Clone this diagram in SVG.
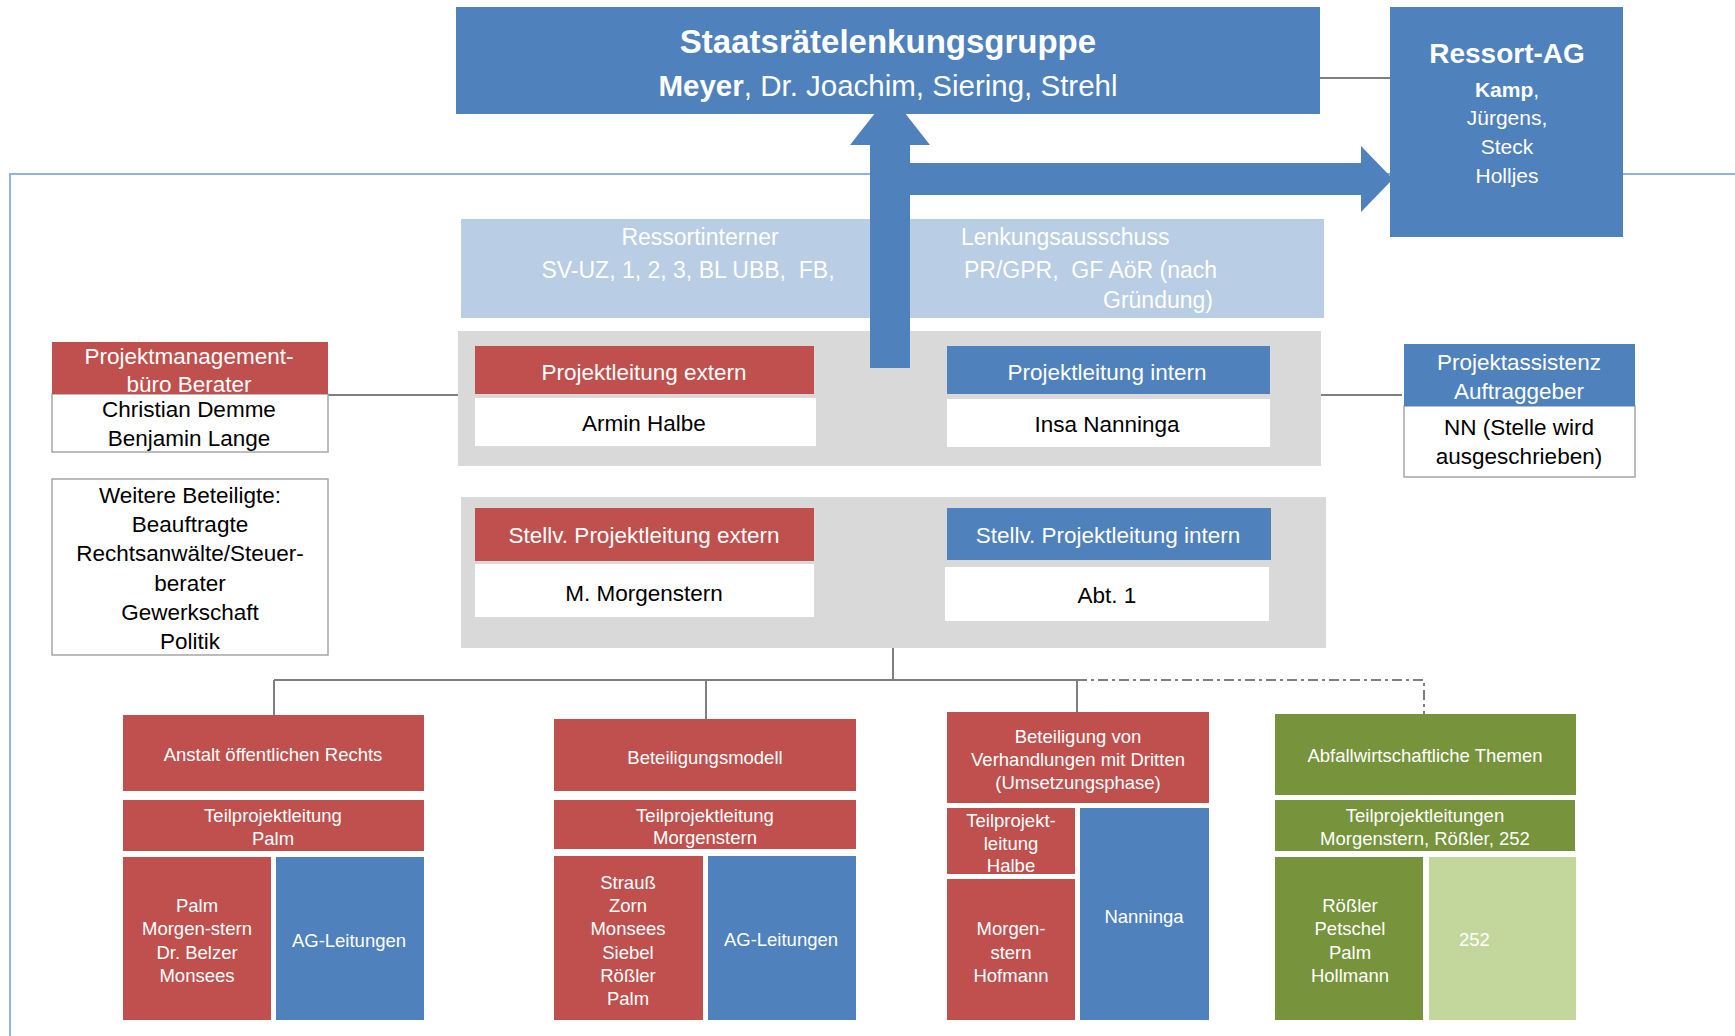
<svg xmlns="http://www.w3.org/2000/svg" width="1735" height="1036" viewBox="0 0 1735 1036">
<style>
text{font-family:"Liberation Sans",Arial,sans-serif;text-anchor:middle}
.pre{white-space:pre}
.w{fill:#fff}
.k{fill:#000}
.red{fill:#c0504d}
.blue{fill:#4f81bd}
.green{fill:#77933c}
.lgreen{fill:#c3d69b}
.lblue{fill:#b9cde5}
.gray{fill:#d9d9d9}
.wb{fill:#fff}
.wbo{fill:#fff;stroke:#a6a6a6;stroke-width:1.5}
.hd{font-size:22.5px}
.sm{font-size:18.5px}
.con{fill:none;stroke:#7f7f7f;stroke-width:2}
</style>
<rect width="1735" height="1036" fill="#fff"/>
<!-- frame -->
<path d="M1735,174 H10 V1036" fill="none" stroke="#8eb4e3" stroke-width="2"/>

<g id="connectors">
<line class="con" x1="1320" y1="78" x2="1390" y2="78"/>
<line class="con" x1="328" y1="395" x2="458" y2="395"/>
<line class="con" x1="1321" y1="395" x2="1402" y2="395"/>
<path class="con" d="M893,648 V680 M274,680 H1077 M274,680 V715 M706,680 V719 M1077,680 V712"/>
<path class="con" d="M1077,680 H1424 V714" stroke-dasharray="10 4 3 4"/>
</g>

<g id="lenkungsausschuss">
<rect class="lblue" x="461" y="219" width="863" height="99"/>
<text class="w" x="700" y="245" font-size="23">Ressortinterner</text>
<text class="w pre" x="688" y="278" font-size="23" xml:space="preserve">SV-UZ, 1, 2, 3, BL UBB,  FB,</text>
<text class="w" x="961" y="245" font-size="23" style="text-anchor:start">Lenkungsausschuss</text>
<text class="w pre" x="964" y="278" font-size="23" style="text-anchor:start" xml:space="preserve">PR/GPR,  GF AöR (nach</text>
<text class="w" x="1213" y="308" font-size="23" style="text-anchor:end">Gründung)</text>
</g>

<g id="projektleitung">
<rect class="gray" x="458" y="331" width="863" height="135"/>
<rect class="red" x="475" y="346" width="339" height="48"/>
<rect class="wb" x="475" y="398" width="341" height="48"/>
<text class="w hd" x="644" y="380">Projektleitung extern</text>
<text class="k hd" x="644" y="431">Armin Halbe</text>
<rect class="blue" x="947" y="346" width="323" height="48"/>
<rect class="wb" x="947" y="399" width="323" height="48"/>
<text class="w hd" x="1107" y="380">Projektleitung intern</text>
<text class="k hd" x="1107" y="432">Insa Nanninga</text>
</g>

<g id="arrows">
<rect class="blue" x="870" y="140" width="40" height="228"/>
<rect class="blue" x="905" y="163" width="456" height="32"/>
<polygon class="blue" points="850,145 930,145 890,94"/>
<polygon class="blue" points="1361,146 1361,212 1393,179"/>
</g>

<g id="staatsraete">
<rect class="blue" x="456" y="7" width="864" height="107"/>
<text class="w" x="888" y="53" font-size="33" font-weight="bold">Staatsrätelenkungsgruppe</text>
<text class="w" x="888" y="96" font-size="29.5"><tspan font-weight="bold">Meyer</tspan>, Dr. Joachim, Siering, Strehl</text>
</g>

<g id="ressort-ag">
<rect class="blue" x="1390" y="7" width="233" height="230"/>
<text class="w" x="1507" y="63" font-size="28" font-weight="bold">Ressort-AG</text>
<text class="w" x="1507" y="97" font-size="21" font-weight="bold">Kamp<tspan font-weight="normal">,</tspan></text>
<text class="w" x="1507" y="125" font-size="21">Jürgens,</text>
<text class="w" x="1507" y="154" font-size="21">Steck</text>
<text class="w" x="1507" y="183" font-size="21">Holljes</text>
</g>

<g id="pm-buero">
<rect class="wbo" x="52" y="394" width="276" height="58"/>
<rect class="red" x="52" y="342" width="276" height="52"/>
<text class="w hd" x="189" y="364">Projektmanagement-</text>
<text class="w hd" x="189" y="392">büro Berater</text>
<text class="k hd" x="189" y="417">Christian Demme</text>
<text class="k hd" x="189" y="446">Benjamin Lange</text>
</g>

<g id="weitere">
<rect class="wbo" x="52" y="479" width="276" height="176"/>
<text class="k hd" x="190" y="503">Weitere Beteiligte:</text>
<text class="k hd" x="190" y="532">Beauftragte</text>
<text class="k hd" x="190" y="561">Rechtsanwälte/Steuer-</text>
<text class="k hd" x="190" y="591">berater</text>
<text class="k hd" x="190" y="620">Gewerkschaft</text>
<text class="k hd" x="190" y="649">Politik</text>
</g>

<g id="projektassistenz">
<rect class="wbo" x="1404" y="406" width="231" height="71"/>
<rect class="blue" x="1404" y="344" width="231" height="62"/>
<text class="w hd" x="1519" y="370">Projektassistenz</text>
<text class="w hd" x="1519" y="399">Auftraggeber</text>
<text class="k hd" x="1519" y="435">NN (Stelle wird</text>
<text class="k hd" x="1519" y="464">ausgeschrieben)</text>
</g>

<g id="stellv">
<rect class="gray" x="461" y="497" width="865" height="151"/>
<rect class="red" x="475" y="508" width="339" height="53"/>
<rect class="wb" x="475" y="564" width="339" height="53"/>
<text class="w hd" x="644" y="543">Stellv. Projektleitung extern</text>
<text class="k hd" x="644" y="601">M. Morgenstern</text>
<rect class="blue" x="947" y="508" width="324" height="52"/>
<rect class="wb" x="945" y="567" width="324" height="54"/>
<text class="w hd" x="1108" y="543">Stellv. Projektleitung intern</text>
<text class="k hd" x="1107" y="603">Abt. 1</text>
</g>

<g id="aoer">
<rect class="red" x="123" y="715" width="301" height="76"/>
<text class="w sm" x="273" y="760.5">Anstalt öffentlichen Rechts</text>
<rect class="red" x="123" y="800" width="301" height="51"/>
<text class="w sm" x="273" y="821.5">Teilprojektleitung</text>
<text class="w sm" x="273" y="844.5">Palm</text>
<rect class="red" x="123" y="857" width="148" height="163"/>
<text class="w sm" x="197" y="911.5">Palm</text>
<text class="w sm" x="197" y="934.5">Morgen-stern</text>
<text class="w sm" x="197" y="958.5">Dr. Belzer</text>
<text class="w sm" x="197" y="981.5">Monsees</text>
<rect class="blue" x="276" y="857" width="148" height="163"/>
<text class="w sm" x="349" y="946.5">AG-Leitungen</text>
</g>

<g id="beteiligungsmodell">
<rect class="red" x="554" y="719" width="302" height="72"/>
<text class="w sm" x="705" y="763.5">Beteiligungsmodell</text>
<rect class="red" x="554" y="800" width="302" height="49"/>
<text class="w sm" x="705" y="821.5">Teilprojektleitung</text>
<text class="w sm" x="705" y="843.5">Morgenstern</text>
<rect class="red" x="554" y="856" width="149" height="164"/>
<text class="w sm" x="628" y="888.5">Strauß</text>
<text class="w sm" x="628" y="911.5">Zorn</text>
<text class="w sm" x="628" y="934.5">Monsees</text>
<text class="w sm" x="628" y="958.5">Siebel</text>
<text class="w sm" x="628" y="981.5">Rößler</text>
<text class="w sm" x="628" y="1004.5">Palm</text>
<rect class="blue" x="708" y="856" width="148" height="164"/>
<text class="w sm" x="781" y="945.5">AG-Leitungen</text>
</g>

<g id="verhandlungen">
<rect class="red" x="947" y="712" width="262" height="91"/>
<text class="w sm" x="1078" y="742.5">Beteiligung von</text>
<text class="w sm" x="1078" y="765.5">Verhandlungen mit Dritten</text>
<text class="w sm" x="1078" y="788.5">(Umsetzungsphase)</text>
<rect class="red" x="947" y="808" width="128" height="66"/>
<text class="w sm" x="1011" y="826.5">Teilprojekt-</text>
<text class="w sm" x="1011" y="849.5">leitung</text>
<text class="w sm" x="1011" y="872">Halbe</text>
<rect class="red" x="947" y="879" width="128" height="141"/>
<text class="w sm" x="1011" y="934.5">Morgen-</text>
<text class="w sm" x="1011" y="958.5">stern</text>
<text class="w sm" x="1011" y="981.5">Hofmann</text>
<rect class="blue" x="1080" y="808" width="129" height="212"/>
<text class="w sm" x="1144" y="922.5">Nanninga</text>
</g>

<g id="abfall">
<rect class="green" x="1275" y="714" width="301" height="81"/>
<text class="w sm" x="1425" y="761.5">Abfallwirtschaftliche Themen</text>
<rect class="green" x="1275" y="800" width="300" height="51"/>
<text class="w sm" x="1425" y="821.5">Teilprojektleitungen</text>
<text class="w sm" x="1425" y="844.5">Morgenstern, Rößler, 252</text>
<rect class="green" x="1275" y="857" width="148" height="163"/>
<text class="w sm" x="1350" y="911.5">Rößler</text>
<text class="w sm" x="1350" y="934.5">Petschel</text>
<text class="w sm" x="1350" y="958.5">Palm</text>
<text class="w sm" x="1350" y="981.5">Hollmann</text>
<rect class="lgreen" x="1429" y="857" width="147" height="163"/>
<text class="w sm" x="1459" y="945.5" style="text-anchor:start">252</text>
</g>
</svg>
